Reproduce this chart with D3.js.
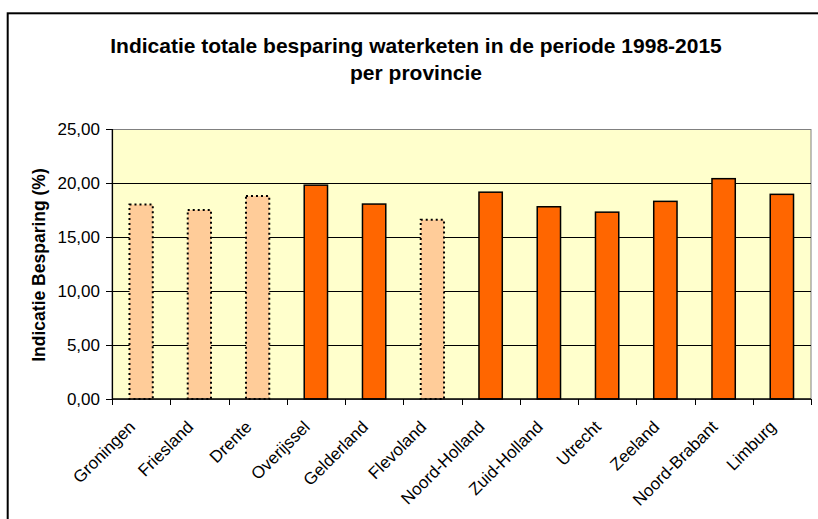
<!DOCTYPE html>
<html>
<head>
<meta charset="utf-8">
<script src="https://cdn.jsdelivr.net/npm/d3@7"></script>
<style>
  body { margin: 0; background: #fff; }
  svg { display: block; font-family: "Liberation Sans", Arial, sans-serif; }
</style>
</head>
<body>
<svg width="818" height="519"></svg>
<script>
var provinces = ["Groningen", "Friesland", "Drente", "Overijssel", "Gelderland", "Flevoland",
    "Noord-Holland", "Zuid-Holland", "Utrecht", "Zeeland", "Noord-Brabant", "Limburg"];
var savings = [18.0, 17.5, 18.8, 19.8, 18.05, 16.6, 19.15, 17.8, 17.3, 18.3, 20.4, 18.95];
var dottedProvinces = ["Groningen", "Friesland", "Drente", "Flevoland"];
var yTicks = [0, 5, 10, 15, 20, 25];

var plotLeft = 112, plotRight = 811, plotTop = 129, plotBottom = 399;
var nl = d3.formatLocale({ decimal: ",", thousands: ".", grouping: [3], currency: ["€", ""] });
var fmt = nl.format(".2f");

drawChart();

function drawChart() {
    var svg = d3.select("svg");

    // outer chart border
    svg.append("rect")
        .attr("x", 7.7).attr("y", 13.3)
        .attr("width", 900).attr("height", 600)
        .attr("fill", "#fff")
        .attr("stroke", "#000")
        .attr("stroke-width", 2);

    var x = d3.scaleBand().domain(provinces).range([plotLeft, plotRight]);
    var y = d3.scaleLinear().domain([0, 25]).range([plotBottom, plotTop]);

    // plot area
    svg.append("rect")
        .attr("x", plotLeft).attr("y", plotTop + 0.5)
        .attr("width", plotRight - plotLeft).attr("height", plotBottom - plotTop)
        .attr("fill", "#FFFFCC")
        .attr("stroke", "#808080")
        .attr("stroke-width", 1);

    // gridlines
    svg.append("g")
        .selectAll("line").data(yTicks.filter(function(d) { return d > 0 && d < 25; })).enter()
        .append("line")
        .attr("x1", plotLeft).attr("x2", plotRight)
        .attr("y1", function(d) { return Math.round(y(d)) + 0.5; })
        .attr("y2", function(d) { return Math.round(y(d)) + 0.5; })
        .attr("stroke", "#000")
        .attr("stroke-width", 1);

    // bars
    var bw = x.bandwidth() * 0.4;
    svg.append("g")
        .selectAll("rect").data(provinces).enter()
        .append("rect")
        .attr("x", function(d) { return x(d) + x.bandwidth() * 0.3; })
        .attr("y", function(d, i) { return y(savings[i]); })
        .attr("width", bw)
        .attr("height", function(d, i) { return plotBottom - y(savings[i]); })
        .attr("fill", function(d) { return dottedProvinces.indexOf(d) >= 0 ? "#FFCC99" : "#FF6600"; })
        .attr("stroke", "#000")
        .attr("stroke-width", function(d) { return dottedProvinces.indexOf(d) >= 0 ? 2 : 1.5; })
        .attr("stroke-dasharray", function(d) { return dottedProvinces.indexOf(d) >= 0 ? "2,3" : null; });

    // y axis
    var yAxis = svg.append("g")
        .attr("transform", "translate(" + plotLeft + ",0)")
        .call(d3.axisLeft(y).tickValues(yTicks).tickFormat(fmt).tickSize(6).tickPadding(6));
    yAxis.select(".domain").attr("stroke", "#000").attr("stroke-width", 1.2);
    yAxis.selectAll("text").attr("font-size", "17px").attr("fill", "#000")
        .attr("font-family", "'Liberation Sans', Arial, sans-serif");

    // x axis
    var boundaries = provinces.map(function(d) { return x(d); }).concat([plotRight]);
    var xAxis = svg.append("g");
    xAxis.append("line")
        .attr("x1", plotLeft).attr("x2", plotRight)
        .attr("y1", plotBottom).attr("y2", plotBottom)
        .attr("stroke", "#000").attr("stroke-width", 1.5);
    xAxis.selectAll("line.tick").data(boundaries).enter()
        .append("line")
        .attr("class", "tick")
        .attr("x1", function(d) { return Math.round(d) + 0.5; })
        .attr("x2", function(d) { return Math.round(d) + 0.5; })
        .attr("y1", plotBottom).attr("y2", plotBottom + 6)
        .attr("stroke", "#000");
    xAxis.selectAll("text").data(provinces).enter()
        .append("text")
        .attr("transform", function(d) {
            return "translate(" + (x(d) + x.bandwidth() / 2 - 5) + "," + (plotBottom + 29) + ") rotate(-45)";
        })
        .attr("text-anchor", "end")
        .attr("font-size", "17px")
        .text(function(d) { return d; });

    // axis title
    svg.append("text")
        .attr("transform", "translate(45,265) rotate(-90)")
        .attr("text-anchor", "middle")
        .attr("font-size", "17.5px")
        .attr("font-weight", "bold")
        .text("Indicatie Besparing (%)");

    // chart title
    svg.append("text")
        .attr("x", 416).attr("y", 53)
        .attr("text-anchor", "middle")
        .attr("font-size", "21px")
        .attr("font-weight", "bold")
        .text("Indicatie totale besparing waterketen in de periode 1998-2015");
    svg.append("text")
        .attr("x", 416).attr("y", 80)
        .attr("text-anchor", "middle")
        .attr("font-size", "21px")
        .attr("font-weight", "bold")
        .text("per provincie");
}
</script>
</body>
</html>
